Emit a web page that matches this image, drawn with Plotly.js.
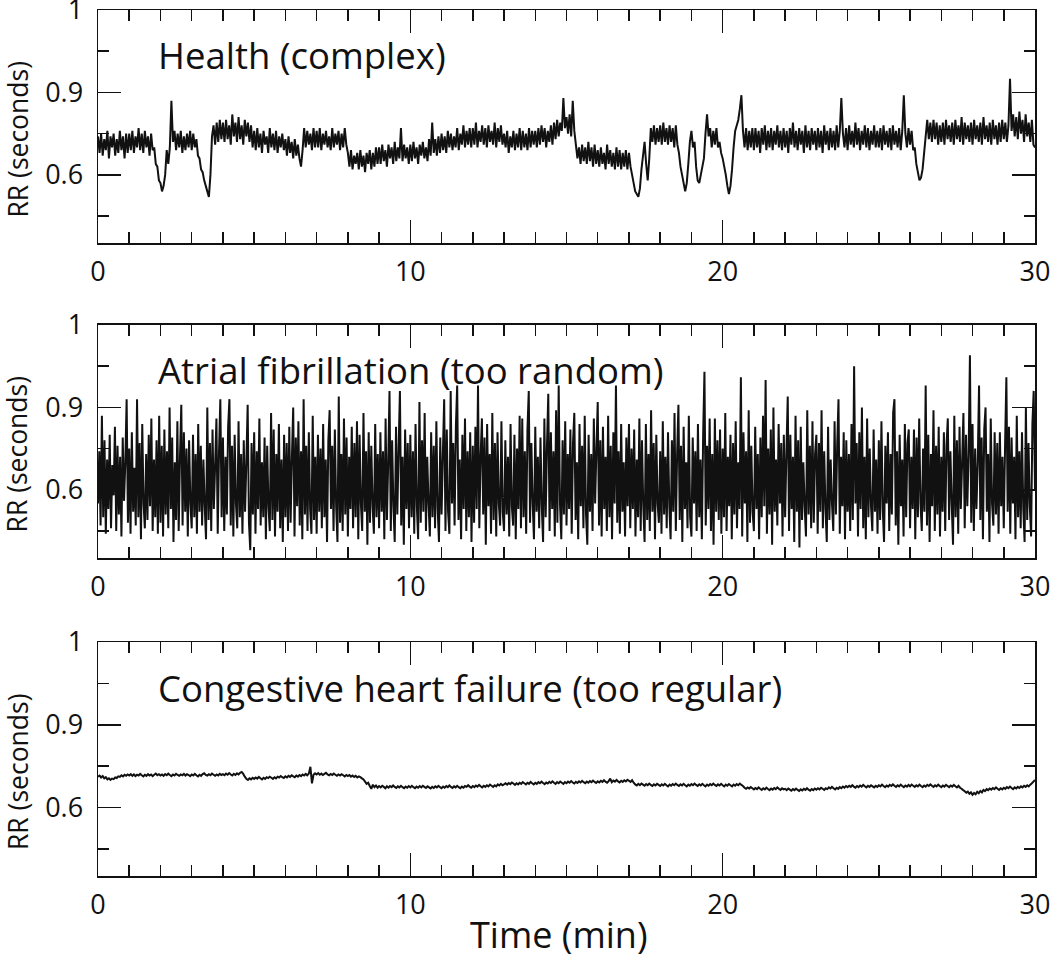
<!DOCTYPE html>
<html><head><meta charset="utf-8">
<script src="https://cdn.plot.ly/plotly-3.0.1.min.js"></script>
<style>html,body{margin:0;padding:0;background:#fff}</style>
</head><body><div id="chart" style="width:1050px;height:958px"></div>
<script>
// RR intervals: health and CHF every 0.05 min, AF every 1/24 min
const healthRR = [
0.74,0.68,0.75,0.67,0.73,0.69,0.76,0.66,0.74,0.70,0.75,0.67,0.73,0.68,0.76,0.69,0.74,0.66,0.75,0.68,
0.75,0.69,0.76,0.68,0.74,0.70,0.77,0.69,0.75,0.68,0.76,0.70,0.74,0.67,0.75,0.69,0.70,0.64,0.63,0.58,
0.57,0.54,0.56,0.60,0.69,0.64,0.70,0.87,0.72,0.76,0.69,0.75,0.70,0.76,0.68,0.74,0.69,0.75,0.70,0.76,
0.69,0.75,0.70,0.73,0.67,0.66,0.62,0.61,0.58,0.56,0.54,0.52,0.60,0.74,0.78,0.71,0.79,0.72,0.80,0.73,
0.79,0.72,0.80,0.73,0.78,0.71,0.82,0.74,0.79,0.72,0.81,0.73,0.78,0.71,0.80,0.74,0.79,0.72,0.78,0.70,
0.76,0.69,0.77,0.70,0.75,0.68,0.76,0.71,0.74,0.68,0.77,0.70,0.75,0.69,0.76,0.68,0.74,0.70,0.75,0.69,
0.73,0.67,0.74,0.68,0.72,0.66,0.73,0.67,0.71,0.66,0.63,0.69,0.77,0.70,0.76,0.71,0.75,0.69,0.77,0.70,
0.76,0.70,0.77,0.69,0.75,0.71,0.76,0.70,0.74,0.69,0.77,0.70,0.75,0.71,0.76,0.69,0.75,0.70,0.77,0.71,
0.68,0.63,0.69,0.62,0.67,0.64,0.68,0.62,0.69,0.63,0.67,0.61,0.68,0.64,0.69,0.62,0.68,0.63,0.70,0.64,
0.70,0.64,0.71,0.65,0.69,0.63,0.71,0.66,0.70,0.64,0.72,0.65,0.70,0.66,0.77,0.65,0.71,0.66,0.70,0.64,
0.71,0.65,0.72,0.66,0.70,0.64,0.71,0.67,0.72,0.66,0.70,0.65,0.73,0.67,0.79,0.68,0.73,0.67,0.74,0.68,
0.75,0.69,0.74,0.68,0.76,0.70,0.75,0.69,0.74,0.70,0.77,0.69,0.75,0.71,0.78,0.70,0.76,0.71,0.77,0.70,
0.77,0.71,0.79,0.70,0.76,0.72,0.78,0.71,0.77,0.70,0.78,0.72,0.76,0.71,0.79,0.70,0.77,0.72,0.78,0.71,
0.75,0.70,0.76,0.68,0.74,0.70,0.76,0.69,0.75,0.70,0.77,0.69,0.76,0.70,0.75,0.69,0.77,0.70,0.76,0.71,
0.76,0.70,0.77,0.71,0.78,0.72,0.77,0.70,0.76,0.72,0.78,0.71,0.79,0.73,0.80,0.74,0.79,0.76,0.88,0.77,
0.81,0.75,0.82,0.74,0.87,0.76,0.71,0.66,0.70,0.64,0.71,0.65,0.70,0.64,0.72,0.65,0.70,0.63,0.71,0.64,
0.69,0.63,0.70,0.64,0.68,0.62,0.71,0.64,0.69,0.63,0.68,0.62,0.70,0.63,0.69,0.62,0.68,0.63,0.69,0.62,
0.68,0.63,0.60,0.57,0.54,0.53,0.52,0.55,0.62,0.67,0.72,0.64,0.58,0.66,0.77,0.72,0.78,0.71,0.77,0.72,
0.78,0.71,0.79,0.72,0.77,0.71,0.78,0.72,0.77,0.70,0.78,0.71,0.68,0.63,0.60,0.57,0.54,0.57,0.64,0.72,
0.76,0.70,0.72,0.63,0.58,0.57,0.60,0.63,0.66,0.75,0.82,0.74,0.77,0.70,0.76,0.71,0.77,0.70,0.72,0.68,
0.66,0.63,0.60,0.56,0.53,0.56,0.62,0.70,0.76,0.78,0.80,0.84,0.89,0.76,0.70,0.77,0.69,0.76,0.70,0.77,
0.69,0.77,0.70,0.76,0.68,0.77,0.71,0.78,0.69,0.76,0.70,0.77,0.69,0.76,0.71,0.78,0.70,0.76,0.69,0.77,
0.70,0.76,0.68,0.77,0.71,0.79,0.70,0.76,0.69,0.77,0.71,0.76,0.68,0.78,0.70,0.76,0.69,0.77,0.71,0.76,
0.69,0.77,0.70,0.76,0.68,0.78,0.71,0.76,0.69,0.77,0.70,0.76,0.69,0.78,0.70,0.76,0.88,0.75,0.70,0.77,
0.69,0.78,0.71,0.76,0.70,0.79,0.71,0.77,0.69,0.76,0.71,0.78,0.70,0.77,0.69,0.76,0.71,0.78,0.70,0.76,
0.70,0.77,0.69,0.78,0.71,0.76,0.70,0.77,0.69,0.78,0.71,0.76,0.70,0.77,0.69,0.76,0.89,0.75,0.70,0.77,
0.71,0.76,0.69,0.70,0.64,0.61,0.58,0.59,0.62,0.68,0.74,0.80,0.73,0.79,0.72,0.80,0.73,0.79,0.71,0.78,
0.72,0.79,0.71,0.80,0.73,0.78,0.72,0.79,0.71,0.80,0.73,0.78,0.72,0.81,0.71,0.79,0.73,0.78,0.72,0.79,
0.71,0.80,0.73,0.78,0.72,0.79,0.71,0.81,0.73,0.78,0.72,0.79,0.71,0.80,0.73,0.78,0.71,0.79,0.72,0.80,
0.73,0.79,0.72,0.78,0.95,0.76,0.82,0.74,0.81,0.73,0.83,0.75,0.80,0.72,0.82,0.74,0.79,0.72,0.80,0.71,
0.70];

const afibRR = [
0.55,0.74,0.47,0.87,0.50,0.78,0.44,0.71,0.53,0.80,0.46,0.69,0.58,0.83,0.45,0.76,0.51,0.72,0.43,0.79,0.56,0.70,0.93,0.48,
0.75,0.44,0.81,0.52,0.68,0.47,0.93,0.50,0.77,0.42,0.84,0.55,0.46,0.73,0.49,0.80,0.54,0.86,0.45,0.71,0.50,0.78,0.44,0.87,
0.48,0.76,0.43,0.82,0.51,0.74,0.46,0.90,0.53,0.79,0.41,0.70,0.49,0.85,0.45,0.72,0.91,0.47,0.81,0.52,0.75,0.43,0.78,0.55,
0.46,0.80,0.50,0.73,0.44,0.84,0.52,0.76,0.47,0.71,0.54,0.42,0.90,0.49,0.77,0.45,0.82,0.53,0.69,0.86,0.44,0.74,0.93,0.50,
0.79,0.45,0.72,0.51,0.83,0.93,0.47,0.76,0.43,0.80,0.55,0.46,0.85,0.50,0.73,0.44,0.78,0.52,0.70,0.91,0.48,0.38,0.77,0.51,
0.81,0.44,0.74,0.53,0.86,0.47,0.70,0.50,0.79,0.42,0.76,0.54,0.45,0.88,0.49,0.82,0.43,0.73,0.52,0.84,0.46,0.71,0.41,0.80,
0.50,0.77,0.45,0.83,0.48,0.72,0.90,0.43,0.79,0.54,0.85,0.47,0.74,0.42,0.93,0.51,0.76,0.45,0.81,0.53,0.44,0.87,0.49,0.72,
0.44,0.80,0.52,0.75,0.46,0.84,0.50,0.71,0.41,0.78,0.89,0.53,0.76,0.45,0.82,0.54,0.41,0.94,0.48,0.73,0.45,0.86,0.51,0.79,
0.43,0.72,0.53,0.83,0.46,0.77,0.50,0.85,0.42,0.80,0.55,0.45,0.88,0.52,0.74,0.40,0.81,0.48,0.76,0.54,0.44,0.84,0.50,0.73,
0.46,0.81,0.52,0.74,0.42,0.86,0.49,0.70,0.96,0.45,0.78,0.54,0.41,0.83,0.51,0.75,0.96,0.47,0.72,0.40,0.82,0.53,0.77,0.46,
0.80,0.50,0.74,0.44,0.84,0.54,0.42,0.92,0.48,0.78,0.52,0.88,0.45,0.72,0.55,0.43,0.81,0.50,0.76,0.46,0.85,0.53,0.41,0.79,
0.51,0.73,0.93,0.45,0.82,0.52,0.44,0.96,0.55,0.77,0.47,0.83,0.98,0.49,0.71,0.42,0.80,0.53,0.86,0.45,0.74,0.50,0.81,0.41,
0.76,0.48,0.83,0.53,0.98,0.46,0.72,0.86,0.51,0.79,0.40,0.84,0.54,0.73,0.44,0.88,0.49,0.77,0.43,0.81,0.55,0.47,0.85,0.52,
0.45,0.78,0.51,0.72,0.43,0.84,0.54,0.47,0.80,0.42,0.75,0.53,0.87,0.46,0.86,0.50,0.74,0.44,0.82,0.96,0.48,0.77,0.55,0.42,
0.83,0.52,0.72,0.46,0.79,0.54,0.41,0.86,0.50,0.76,0.95,0.45,0.81,0.53,0.74,0.43,0.89,0.48,0.98,0.55,0.42,0.78,0.51,0.85,
0.47,0.73,0.53,0.82,0.44,0.77,0.88,0.49,0.70,0.42,0.84,0.54,0.76,0.46,0.87,0.51,0.40,0.80,0.52,0.73,0.45,0.86,0.55,0.75,
0.92,0.47,0.78,0.43,0.83,0.53,0.72,0.45,0.87,0.50,0.76,0.42,0.81,0.55,0.98,0.48,0.74,0.44,0.84,0.52,0.70,0.43,0.79,0.54,
0.84,0.46,0.75,0.53,0.82,0.43,0.71,0.50,0.86,0.45,0.78,0.54,0.41,0.84,0.49,0.73,0.45,0.89,0.52,0.77,0.42,0.80,0.55,0.48,
0.74,0.44,0.85,0.51,0.72,0.46,0.81,0.54,0.42,0.78,0.52,0.88,0.45,0.73,0.91,0.49,0.76,0.41,0.83,0.53,0.70,0.46,0.87,0.50,
0.43,0.79,0.55,0.74,0.45,0.84,0.50,0.71,0.42,0.80,1.03,0.47,0.76,0.53,0.86,0.45,0.73,0.40,0.86,0.52,0.78,0.49,0.82,0.44,
0.75,0.50,0.88,0.45,0.72,0.54,0.80,0.42,0.77,0.51,0.85,0.46,0.70,0.53,1.01,0.43,0.81,0.55,0.74,0.41,0.89,0.48,0.76,0.52,
0.45,0.83,0.53,0.73,0.42,0.79,0.50,0.87,0.54,1.00,0.44,0.75,0.51,0.82,0.40,0.90,0.52,0.71,0.47,0.84,0.55,0.77,0.43,0.80,
0.50,0.74,0.94,0.45,0.80,0.53,0.72,0.41,0.87,0.52,0.78,0.39,0.83,0.49,0.70,0.54,0.43,0.89,0.51,0.76,0.46,0.85,0.48,0.73,
0.80,0.44,0.77,0.52,0.89,0.46,0.74,0.53,0.41,0.83,0.49,0.71,0.55,0.45,0.85,0.51,0.76,0.93,0.44,0.72,0.54,0.81,0.42,0.78,
0.52,0.73,0.45,0.84,0.49,1.05,0.55,0.77,0.43,0.81,0.53,0.90,0.46,0.72,0.42,0.86,0.50,0.75,0.54,0.45,0.82,0.52,0.71,0.44,
0.78,0.49,0.85,0.53,0.41,0.76,0.55,0.81,0.45,0.73,0.51,0.88,0.93,0.47,0.74,0.40,0.80,0.54,0.71,0.43,0.84,0.50,0.77,0.82,
0.46,0.72,0.53,0.82,0.42,0.79,0.50,0.86,0.55,0.45,0.75,0.52,0.98,0.47,0.80,0.41,0.73,0.54,0.89,0.45,0.76,0.51,0.83,0.43,
0.72,0.52,0.81,0.45,0.76,0.86,0.49,0.74,0.55,0.40,0.87,0.50,0.78,0.44,0.83,0.53,0.70,0.88,0.46,0.80,0.54,0.73,1.09,0.48,
0.84,0.45,0.75,0.53,0.70,0.98,0.49,0.79,0.42,0.82,0.90,0.52,0.73,0.41,0.86,0.55,0.47,0.81,0.51,0.77,0.44,0.81,0.54,0.72,
0.46,0.76,1.01,0.52,0.83,0.44,0.79,0.55,0.72,0.42,0.87,0.50,0.74,0.46,0.81,0.53,0.41,0.90,0.49,0.77,0.54,0.43,0.84,0.96,
0.60];

const chfRR = [
0.712,0.716,0.709,0.714,0.706,0.710,0.702,0.706,0.700,0.705,0.703,0.709,0.707,0.713,0.711,0.717,0.713,0.719,0.715,0.720,
0.716,0.721,0.715,0.720,0.714,0.719,0.716,0.722,0.717,0.713,0.719,0.715,0.721,0.716,0.720,0.714,0.719,0.723,0.717,0.721,
0.716,0.720,0.715,0.721,0.717,0.723,0.718,0.714,0.720,0.716,0.722,0.718,0.715,0.720,0.717,0.722,0.716,0.721,0.718,0.714,
0.720,0.716,0.722,0.717,0.713,0.719,0.715,0.721,0.724,0.718,0.716,0.721,0.717,0.723,0.719,0.715,0.720,0.716,0.722,0.718,
0.721,0.717,0.723,0.719,0.725,0.720,0.716,0.722,0.718,0.724,0.720,0.726,0.729,0.722,0.712,0.704,0.700,0.706,0.702,0.708,
0.704,0.709,0.705,0.711,0.706,0.702,0.708,0.704,0.710,0.707,0.712,0.708,0.704,0.710,0.706,0.712,0.709,0.714,0.710,0.707,
0.713,0.709,0.715,0.711,0.717,0.713,0.710,0.716,0.712,0.718,0.714,0.720,0.716,0.722,0.717,0.723,0.748,0.688,0.719,0.724,
0.720,0.725,0.719,0.723,0.718,0.722,0.726,0.720,0.717,0.722,0.718,0.723,0.719,0.715,0.720,0.716,0.721,0.717,0.713,0.718,
0.714,0.718,0.712,0.716,0.711,0.715,0.709,0.713,0.710,0.706,0.702,0.694,0.686,0.690,0.678,0.668,0.683,0.674,0.680,0.672,
0.678,0.673,0.679,0.675,0.670,0.677,0.672,0.678,0.674,0.680,0.675,0.671,0.677,0.673,0.679,0.674,0.670,0.676,0.672,0.678,
0.673,0.679,0.674,0.670,0.676,0.672,0.678,0.673,0.679,0.675,0.671,0.677,0.673,0.669,0.675,0.671,0.677,0.673,0.679,0.674,
0.670,0.676,0.672,0.678,0.674,0.680,0.675,0.671,0.677,0.673,0.679,0.674,0.670,0.676,0.672,0.678,0.675,0.681,0.676,0.672,
0.678,0.674,0.680,0.676,0.682,0.677,0.673,0.679,0.675,0.681,0.677,0.683,0.679,0.675,0.681,0.677,0.684,0.680,0.686,0.681,
0.684,0.688,0.683,0.689,0.685,0.691,0.687,0.682,0.688,0.684,0.690,0.686,0.692,0.688,0.684,0.690,0.686,0.693,0.688,0.684,
0.690,0.686,0.692,0.688,0.694,0.689,0.685,0.691,0.687,0.693,0.689,0.695,0.690,0.686,0.692,0.688,0.694,0.690,0.686,0.692,
0.688,0.694,0.690,0.696,0.691,0.687,0.693,0.689,0.695,0.691,0.697,0.692,0.688,0.694,0.690,0.696,0.692,0.698,0.693,0.689,
0.695,0.691,0.697,0.693,0.699,0.694,0.690,0.696,0.705,0.692,0.698,0.694,0.700,0.695,0.691,0.697,0.693,0.699,0.695,0.701,
0.697,0.693,0.699,0.690,0.684,0.680,0.686,0.681,0.687,0.683,0.679,0.685,0.681,0.687,0.682,0.678,0.684,0.680,0.686,0.682,
0.678,0.684,0.680,0.686,0.681,0.677,0.683,0.679,0.685,0.681,0.687,0.682,0.678,0.684,0.680,0.686,0.681,0.677,0.683,0.679,
0.685,0.681,0.687,0.682,0.678,0.684,0.680,0.686,0.681,0.677,0.683,0.679,0.685,0.681,0.687,0.682,0.678,0.684,0.680,0.686,
0.681,0.677,0.683,0.679,0.685,0.681,0.677,0.683,0.679,0.685,0.681,0.687,0.682,0.678,0.672,0.668,0.673,0.669,0.674,0.670,
0.666,0.671,0.667,0.673,0.668,0.664,0.670,0.666,0.672,0.667,0.663,0.669,0.665,0.671,0.667,0.673,0.668,0.664,0.670,0.666,
0.668,0.663,0.669,0.665,0.661,0.667,0.663,0.669,0.664,0.660,0.666,0.662,0.668,0.664,0.670,0.665,0.661,0.667,0.663,0.669,
0.665,0.670,0.666,0.672,0.668,0.664,0.670,0.667,0.673,0.669,0.675,0.670,0.666,0.672,0.668,0.674,0.670,0.676,0.672,0.678,
0.674,0.679,0.675,0.681,0.676,0.672,0.678,0.674,0.680,0.676,0.682,0.677,0.673,0.679,0.675,0.681,0.677,0.673,0.679,0.675,
0.681,0.677,0.683,0.678,0.674,0.680,0.676,0.682,0.678,0.684,0.679,0.675,0.681,0.677,0.683,0.678,0.674,0.680,0.676,0.682,
0.677,0.683,0.679,0.675,0.681,0.677,0.683,0.678,0.674,0.680,0.676,0.682,0.678,0.684,0.679,0.675,0.681,0.677,0.683,0.678,
0.674,0.680,0.676,0.682,0.678,0.674,0.680,0.676,0.682,0.677,0.673,0.679,0.672,0.668,0.663,0.659,0.654,0.658,0.650,0.655,
0.646,0.653,0.648,0.657,0.652,0.660,0.655,0.664,0.660,0.667,0.663,0.669,0.665,0.671,0.667,0.673,0.668,0.664,0.670,0.666,
0.672,0.668,0.674,0.670,0.676,0.671,0.667,0.673,0.669,0.675,0.671,0.677,0.673,0.679,0.675,0.681,0.677,0.683,0.688,0.694,
0.700];

const healthStep = 0.05, afibStep = 1/24, chfStep = 0.05;  // minutes between samples
const panelTitles = ["Health (complex)", "Atrial fibrillation (too random)", "Congestive heart failure (too regular)"];
const yTickVals = [0.6, 0.9, 1.2];
const yTickText = ["0.6", "0.9", "1"];
const yMinorVals = [0.45, 0.75, 1.05];
const xTickVals = [0, 10, 20, 30];
const xTickText = ["0", "10", "20", "30"];
const yTitle = "RR (seconds)";
const xTitle = "Time (min)";

const series = [healthRR, afibRR, chfRR];
const steps = [healthStep, afibStep, chfStep];
const widths = [2.0, 2.0, 2.0];

const FONT = "Open Sans, sans-serif";
const INK = "#111111";

const traces = series.map((vals, k) => ({
  type: "scatter", mode: "lines",
  x: vals.map((_, i) => i * steps[k]),
  y: vals,
  xaxis: k === 0 ? "x" : "x" + (k + 1),
  yaxis: k === 0 ? "y" : "y" + (k + 1),
  line: {color: INK, width: widths[k], simplify: false},
  hoverinfo: "skip", showlegend: false
}));

const domains = [[0.7309, 1.0], [0.3672, 0.6363], [0.0, 0.2702]];

const layout = {
  width: 1050, height: 958,
  margin: {l: 98, r: 15, t: 10, b: 82},
  paper_bgcolor: "#fff", plot_bgcolor: "#fff",
  font: {family: FONT, color: INK},
  showlegend: false,
  annotations: []
};

for (let k = 0; k < 3; k++) {
  const xs = k === 0 ? "" : String(k + 1);
  layout["xaxis" + xs] = {
    domain: [0, 1], anchor: "y" + xs, range: [0, 30],
    tickmode: "array", tickvals: xTickVals, ticktext: xTickText,
    ticks: "inside", ticklen: 23, tickwidth: 1.5, tickcolor: INK,
    minor: {dtick: 1, tick0: 0, ticks: "inside", ticklen: 11, tickwidth: 1.5, tickcolor: INK, showgrid: false},
    showline: true, linecolor: INK, linewidth: 1.5, mirror: "allticks",
    showgrid: false, zeroline: false,
    tickfont: {family: FONT, size: 27, color: INK},
    ticklabelstandoff: 4, ticklabeloverflow: "allow", fixedrange: true
  };
  layout["yaxis" + xs] = {
    domain: domains[k], anchor: "x" + xs, range: [0.352, 1.2],
    tickmode: "array", tickvals: yTickVals, ticktext: yTickText,
    ticks: "inside", ticklen: 23, tickwidth: 1.5, tickcolor: INK,
    minor: {tickmode: "array", tickvals: yMinorVals, ticks: "inside", ticklen: 11, tickwidth: 1.5, tickcolor: INK, showgrid: false},
    showline: true, linecolor: INK, linewidth: 1.5, mirror: "allticks",
    showgrid: false, zeroline: false,
    tickfont: {family: FONT, size: 27, color: INK},
    ticklabelstandoff: 8, ticklabeloverflow: "allow", fixedrange: true
  };
  layout.annotations.push({
    text: panelTitles[k], xref: "x" + xs + " domain", yref: "y" + xs + " domain",
    x: 0.062, y: 0.805, xanchor: "left", yanchor: "middle", showarrow: false,
    font: {family: FONT, size: 36.5, color: INK}
  });
  layout.annotations.push({
    text: yTitle, xref: "paper", yref: "y" + xs + " domain",
    x: -0.0854, y: 0.5, yshift: -13, xanchor: "center", yanchor: "middle",
    textangle: -90, showarrow: false,
    font: {family: FONT, size: 26.5, color: INK}
  });
}
layout.annotations.push({
  text: xTitle, xref: "paper", yref: "paper", x: 0.4925, y: 0, yshift: -58,
  xanchor: "center", yanchor: "middle", showarrow: false,
  font: {family: FONT, size: 36, color: INK}
});

Plotly.newPlot("chart", traces, layout, {displayModeBar: false, staticPlot: true});
</script>
</body></html>
